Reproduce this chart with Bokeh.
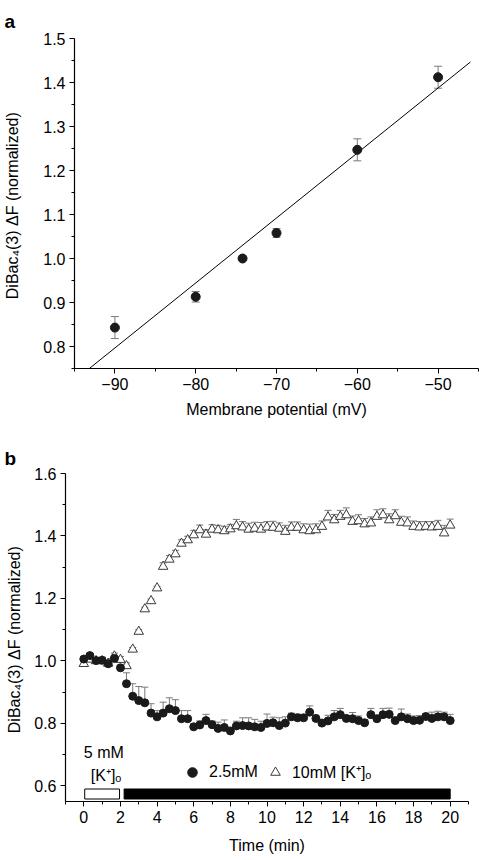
from bokeh.plotting import figure
from bokeh.models import (ColumnDataSource, Whisker, TeeHead, FixedTicker, Range1d,
                          Label, Legend, LegendItem, PrintfTickFormatter)
from bokeh.embed import file_html
from bokeh.resources import INLINE

FONT = "Liberation Sans"

# ---------------- Panel a data ----------------
membrane_mv = [-90, -80, -74.2, -70, -60, -50]
dF_a = [0.843, 0.913, 1.000, 1.058, 1.247, 1.412]
err_a = [0.025, 0.012, 0.0, 0.010, 0.025, 0.025]
fit_slope = 0.01477
fit_intercept = 2.126
fit_mv = [-94, -46]
a_xticks = [-90, -80, -70, -60, -50]
a_xminor = [-95, -85, -75, -65, -55, -45]
a_yticks = [0.8, 0.9, 1.0, 1.1, 1.2, 1.3, 1.4, 1.5]
a_yminor = [0.75, 0.85, 0.95, 1.05, 1.15, 1.25, 1.35, 1.45]

# ---------------- Panel b data ----------------
time_min = [0, 0.33, 0.67, 1, 1.33, 1.67, 2, 2.33, 2.67, 3, 3.33, 3.67, 4, 4.33, 4.67,
            5, 5.33, 5.67, 6, 6.33, 6.67, 7, 7.33, 7.67, 8, 8.33, 8.67, 9, 9.33, 9.67,
            10, 10.33, 10.67, 11, 11.33, 11.67, 12, 12.33, 12.67, 13, 13.33, 13.67, 14,
            14.33, 14.67, 15, 15.33, 15.67, 16, 16.33, 16.67, 17, 17.33, 17.67, 18,
            18.33, 18.67, 19, 19.33, 19.67, 20]
k25_mean = [1.006, 1.017, 1.001, 1.002, 0.991, 1.008, 0.978, 0.927, 0.887, 0.873,
            0.866, 0.833, 0.821, 0.833, 0.847, 0.841, 0.815, 0.815, 0.789, 0.795,
            0.809, 0.796, 0.784, 0.787, 0.776, 0.792, 0.793, 0.792, 0.789, 0.787,
            0.800, 0.802, 0.793, 0.801, 0.821, 0.818, 0.818, 0.836, 0.816, 0.801,
            0.808, 0.821, 0.828, 0.816, 0.815, 0.809, 0.802, 0.828, 0.815, 0.828,
            0.829, 0.809, 0.821, 0.815, 0.809, 0.810, 0.822, 0.816, 0.821, 0.821,
            0.809]
k25_err = [0.008, 0.006, 0.01, 0.01, 0.01, 0.01, 0.006, 0.035, 0.04, 0.045,
           0.05, 0.03, 0.02, 0.035, 0.035, 0.035, 0.026, 0.026, 0.01, 0.013,
           0.02, 0.012, 0.02, 0.024, 0.01, 0.015, 0.025, 0.026, 0.024, 0.02,
           0.03, 0.018, 0.025, 0.02, 0.012, 0.012, 0.01, 0.02, 0.01, 0.01,
           0.018, 0.02, 0.02, 0.01, 0.02, 0.015, 0.01, 0.02, 0.01, 0.02,
           0.02, 0.01, 0.025, 0.015, 0.015, 0.015, 0.01, 0.02, 0.018, 0.015,
           0.02]
k10_mean = [0.991, 1.005, 1.000, 1.000, 0.992, 1.015, 1.004, 0.984, 1.037, 1.094,
            1.166, 1.192, 1.233, 1.302, 1.325, 1.342, 1.376, 1.387, 1.403, 1.419,
            1.405, 1.421, 1.419, 1.416, 1.422, 1.432, 1.428, 1.421, 1.424, 1.421,
            1.428, 1.427, 1.424, 1.414, 1.427, 1.427, 1.419, 1.416, 1.419, 1.430,
            1.460, 1.451, 1.462, 1.467, 1.446, 1.448, 1.438, 1.441, 1.462, 1.467,
            1.451, 1.464, 1.443, 1.441, 1.430, 1.428, 1.430, 1.428, 1.430, 1.409,
            1.434]
k10_err = [0.01, 0.01, 0.01, 0.01, 0.01, 0.01, 0.01, 0.01, 0.006, 0.006,
           0.006, 0.006, 0.006, 0.012, 0.012, 0.012, 0.012, 0.012, 0.015, 0.016,
           0.015, 0.015, 0.015, 0.015, 0.015, 0.021, 0.018, 0.02, 0.02, 0.022,
           0.018, 0.02, 0.018, 0.02, 0.018, 0.018, 0.02, 0.022, 0.02, 0.018,
           0.022, 0.018, 0.02, 0.023, 0.018, 0.02, 0.018, 0.02, 0.022, 0.02,
           0.02, 0.02, 0.02, 0.02, 0.018, 0.018, 0.016, 0.018, 0.02, 0.025,
           0.02]
treat_start = [0.05, 2.2]
treat_end = [1.95, 20.0]
treat_fill = ["white", "black"]
b_xticks = [0, 2, 4, 6, 8, 10, 12, 14, 16, 18, 20]
b_xminor = [-1, 1, 3, 5, 7, 9, 11, 13, 15, 17, 19, 21]
b_yticks = [0.6, 0.8, 1.0, 1.2, 1.4, 1.6]
b_yminor = [0.7, 0.9, 1.1, 1.3, 1.5]

YLABEL = "DiBac\u2084(3)  \u0394F (normalized)"
ERRC = "#7a7a7a"


def style(p, xt, xm, yt, ym):
    p.xgrid.visible = False
    p.ygrid.visible = False
    p.outline_line_color = None
    p.background_fill_color = "white"
    p.border_fill_color = "white"
    p.xaxis.ticker = FixedTicker(ticks=xt, minor_ticks=xm)
    p.yaxis.ticker = FixedTicker(ticks=yt, minor_ticks=ym)
    p.yaxis.formatter = PrintfTickFormatter(format="%.1f")
    for ax in (p.xaxis, p.yaxis):
        ax.axis_line_color = "black"
        ax.axis_line_width = 1.2
        ax.major_tick_line_color = "black"
        ax.minor_tick_line_color = "black"
        ax.major_tick_in = 0
        ax.major_tick_out = 5
        ax.minor_tick_in = 0
        ax.minor_tick_out = 3
        ax.major_label_text_font = FONT
        ax.major_label_text_font_size = "16px"
        ax.major_label_text_color = "black"
        ax.major_label_standoff = 4
        ax.axis_label_text_font = FONT
        ax.axis_label_text_font_size = "16px"
        ax.axis_label_text_font_style = "normal"
        ax.axis_label_text_color = "black"


def panel_title(p, text, offset, standoff):
    p.title.text = text
    p.title.text_font = FONT
    p.title.text_font_size = "19px"
    p.title.text_font_style = "bold"
    p.title.text_color = "black"
    p.title.align = "left"
    p.title.offset = offset
    p.title.standoff = standoff


# ---------------- Panel a ----------------
pa = figure(width=479, height=436, x_range=Range1d(-95, -45), y_range=Range1d(0.75, 1.5),
            output_backend="svg", toolbar_location=None,
            min_border_left=74, min_border_right=1, min_border_top=38, min_border_bottom=68)
style(pa, a_xticks, a_xminor, a_yticks, a_yminor)
pa.xaxis.axis_label = "Membrane potential (mV)"
pa.yaxis.axis_label = YLABEL
pa.xaxis.axis_label_standoff = 8
pa.yaxis.axis_label_standoff = 19
panel_title(pa, "a", -70, 13)

fit_y = [fit_intercept + fit_slope * v for v in fit_mv]
pa.line(fit_mv, fit_y, line_color="black", line_width=1)

src_a = ColumnDataSource(dict(x=membrane_mv, y=dF_a,
                              lo=[m - e for m, e in zip(dF_a, err_a)],
                              hi=[m + e for m, e in zip(dF_a, err_a)]))
pa.add_layout(Whisker(source=src_a, base="x", upper="hi", lower="lo", dimension="height",
                      line_color=ERRC, line_width=1,
                      upper_head=TeeHead(size=8, line_color=ERRC, line_width=1),
                      lower_head=TeeHead(size=8, line_color=ERRC, line_width=1)))
pa.scatter("x", "y", source=src_a, marker="circle", size=9,
           fill_color="#1a1a1a", line_color="#1a1a1a")

# ---------------- Panel b ----------------
pb = figure(width=479, height=422, x_range=Range1d(-1, 21), y_range=Range1d(0.55, 1.6),
            output_backend="svg", toolbar_location=None,
            min_border_left=65, min_border_right=11, min_border_top=37, min_border_bottom=57)
style(pb, b_xticks, b_xminor, b_yticks, b_yminor)
pb.xaxis.axis_label = "Time (min)"
pb.yaxis.axis_label = YLABEL
pb.xaxis.axis_label_standoff = 11
pb.yaxis.axis_label_standoff = 8
panel_title(pb, "b", -61, 9)

src10 = ColumnDataSource(dict(t=time_min, y=k10_mean,
                              hi=[m + e for m, e in zip(k10_mean, k10_err)]))
src25 = ColumnDataSource(dict(t=time_min, y=k25_mean,
                              hi=[m + e for m, e in zip(k25_mean, k25_err)]))
pb.add_layout(Whisker(source=src10, base="t", upper="hi", lower="y", dimension="height",
                      line_color=ERRC, line_width=1,
                      upper_head=TeeHead(size=7, line_color=ERRC, line_width=1),
                      lower_head=None))
pb.add_layout(Whisker(source=src25, base="t", upper="hi", lower="y", dimension="height",
                      line_color=ERRC, line_width=1,
                      upper_head=TeeHead(size=7, line_color=ERRC, line_width=1),
                      lower_head=None))
r_tri = pb.scatter("t", "y", source=src10, marker="triangle", size=9.5,
                   fill_color="white", line_color="#3a3a3a", line_width=1)
r_circ = pb.scatter("t", "y", source=src25, marker="circle", size=8,
                    fill_color="#1a1a1a", line_color="#1a1a1a")

bar_bottom = 0.558
bar_top = 0.590
pb.quad(left=treat_start, right=treat_end, bottom=bar_bottom, top=bar_top,
        fill_color=treat_fill, line_color="black", line_width=1)

pb.add_layout(Label(x=0.0, y=0.706, text="5 mM", text_baseline="middle",
                    text_font=FONT, text_font_size="16px", text_color="black"))
pb.add_layout(Label(x=0.38, y=0.632, text="[K\u207a]\u2092", text_baseline="middle",
                    text_font=FONT, text_font_size="16px", text_color="black"))

legend = Legend(items=[LegendItem(label="2.5mM", renderers=[r_circ]),
                       LegendItem(label="10mM [K\u207a]\u2092", renderers=[r_tri])],
                orientation="horizontal", location=(115, 17), padding=0, margin=0,
                spacing=5, label_standoff=5, glyph_width=24, glyph_height=24,
                label_text_font=FONT, label_text_font_size="16px",
                label_text_color="black",
                background_fill_alpha=0, border_line_color=None)
pb.add_layout(legend)

open("out.html", "w").write(file_html((pa, pb), INLINE))
